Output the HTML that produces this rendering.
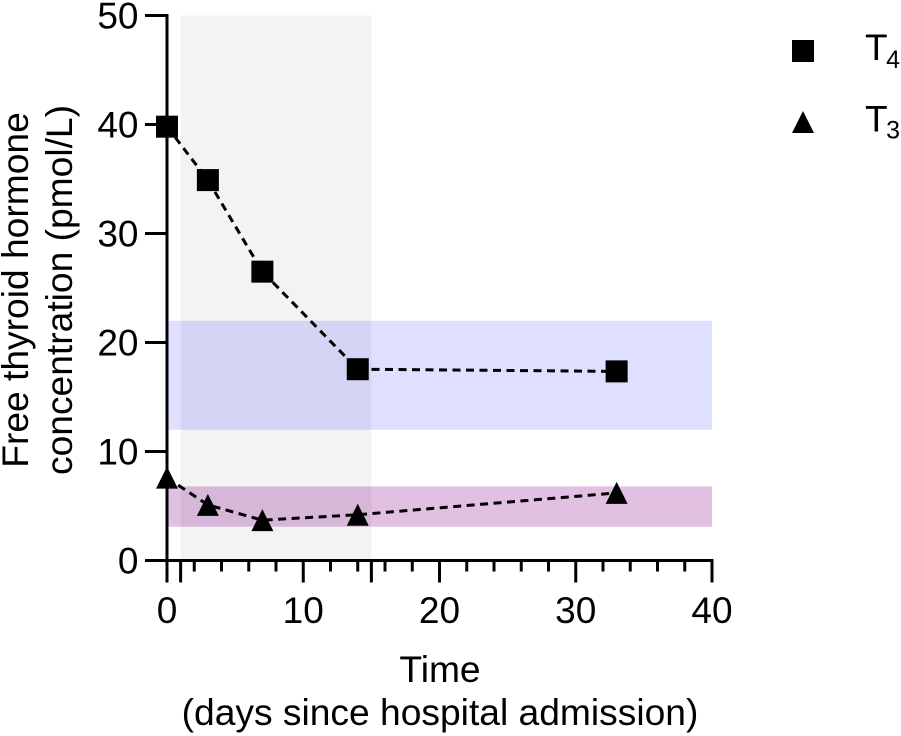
<!DOCTYPE html>
<html lang="en">
<head>
<meta charset="utf-8">
<title>Free thyroid hormone concentration over time</title>
<style>
  html, body { margin: 0; padding: 0; background: #ffffff; }
  body { width: 901px; height: 736px; overflow: hidden; }
  svg { display: block; font-family: "Liberation Sans", Arial, sans-serif; fill: #000; }
  text { fill: #000; }
</style>
</head>
<body>
<svg id="chart" xmlns="http://www.w3.org/2000/svg" width="901" height="736" viewBox="0 0 901 736">
  <g id="bands"></g>
  <g id="axes"></g>
  <g id="series"></g>
  <text transform="translate(28,290) rotate(-90)" text-anchor="middle" font-size="37.2">Free thyroid hormone</text>
  <text transform="translate(72,290) rotate(-90)" text-anchor="middle" font-size="37.2">concentration (pmol/L)</text>
  <text x="440" y="682" text-anchor="middle" font-size="37.2">Time</text>
  <text x="440" y="725" text-anchor="middle" font-size="37.2">(days since hospital admission)</text>
  <g id="legend">
    <g>
      <rect x="792" y="40" width="22" height="22" fill="#000"></rect>
      <text x="865" y="60" font-size="37">T<tspan font-size="25" dx="-1.5" dy="8">4</tspan></text>
    </g>
    <g>
      <polygon points="803,111 814,133 792,133" fill="#000"></polygon>
      <text x="865" y="131.5" font-size="37">T<tspan font-size="25" dx="-1.5" dy="7">3</tspan></text>
    </g>
  </g>
</svg>
<script>
// Chart data
const days = [0, 3, 7, 14, 33];
const t4Values = [39.8, 34.9, 26.5, 17.55, 17.35];
const t3Values = [7.6, 5.1, 3.7, 4.2, 6.2];
const xTickLabels = [0, 10, 20, 30, 40];
const xMinorTicks = [2, 4, 6, 8, 12, 14, 16, 18, 22, 24, 26, 28, 32, 34, 36, 38];
const xExtraMajorTicks = [1, 15];
const yTickLabels = [0, 10, 20, 30, 40, 50];
const hospitalStay = [1, 15];
const t4Range = [12, 22];
const t3Range = [3.1, 6.8];

// Axis functions
const xScale = v => 167 + v * 13.625;
const yScale = v => 560.5 - v * 10.9;

const NS = 'http://www.w3.org/2000/svg';
function make(tag, attrs, parent) {
  const el = document.createElementNS(NS, tag);
  for (const k in attrs) el.setAttribute(k, attrs[k]);
  parent.appendChild(el);
  return el;
}

// Bands
const bands = document.getElementById('bands');
const grayBand = make('rect', { x: xScale(hospitalStay[0]), y: yScale(50), width: xScale(hospitalStay[1]) - xScale(hospitalStay[0]), height: yScale(0) - yScale(50), fill: '#f3f3f3' }, bands);


const t4Band = make('rect', { x: xScale(0), y: yScale(t4Range[1]), width: xScale(40) - xScale(0), height: yScale(t4Range[0]) - yScale(t4Range[1]), fill: 'rgba(0,0,255,0.125)' }, bands);


const t3Band = make('rect', { x: xScale(0), y: yScale(t3Range[1]), width: xScale(40) - xScale(0), height: yScale(t3Range[0]) - yScale(t3Range[1]), fill: '#e2c0e2', style: 'mix-blend-mode:multiply' }, bands);



// Axes
const axes = document.getElementById('axes');
const axisStroke = { stroke: '#000', 'stroke-width': 3, fill: 'none' };
const yLine = make('line', Object.assign({ x1: xScale(0), x2: xScale(0), y1: yScale(50) - 1.5, y2: yScale(0) + 1.5 }, axisStroke), axes);


const xLine = make('line', Object.assign({ x1: xScale(0) - 1.5, x2: xScale(40) + 1.5, y1: yScale(0), y2: yScale(0) }, axisStroke), axes);



yTickLabels.forEach(v => {
  const tick = make('line', Object.assign({ x1: xScale(0) - 22, x2: xScale(0), y1: yScale(v), y2: yScale(v) }, axisStroke), axes);
  
  
  const label = make('text', { x: 138.5, y: yScale(v) + 13, 'text-anchor': 'end', 'font-size': 37 }, axes);
  
  
  label.textContent = v;
});
xTickLabels.forEach(v => {
  const tick = make('line', Object.assign({ x1: xScale(v), x2: xScale(v), y1: yScale(0), y2: yScale(0) + 22 }, axisStroke), axes);
  
  
  const label = make('text', { x: xScale(v), y: 623, 'text-anchor': 'middle', 'font-size': 37 }, axes);
  
  
  label.textContent = v;
});
xExtraMajorTicks.forEach(v => {
  const tick = make('line', Object.assign({ x1: xScale(v), x2: xScale(v), y1: yScale(0), y2: yScale(0) + 22 }, axisStroke), axes);
  
  
});
xMinorTicks.forEach(v => {
  const tick = make('line', Object.assign({ x1: xScale(v), x2: xScale(v), y1: yScale(0), y2: yScale(0) + 11 }, axisStroke), axes);
  
  
});

// Series
const series = document.getElementById('series');
function linePoints(values) {
  return values.map((v, i) => xScale(days[i]) + ',' + yScale(v)).join(' ');
}
const dash = { fill: 'none', stroke: '#000', 'stroke-width': 3, 'stroke-dasharray': '8 5.5' };
const t4Line = make('polyline', Object.assign({ points: linePoints(t4Values) }, dash), series);


const t3Line = make('polyline', Object.assign({ points: linePoints(t3Values) }, dash), series);



t4Values.forEach((v, i) => {
  const m = make('rect', { x: xScale(days[i]) - 11, y: yScale(v) - 11, width: 22, height: 22, fill: '#000' }, series);
  
  
});
t3Values.forEach((v, i) => {
  const cx = xScale(days[i]), cy = yScale(v);
  const m = make('polygon', { points: `${cx},${cy - 11} ${cx + 11},${cy + 11} ${cx - 11},${cy + 11}`, fill: '#000' }, series);
  
  
});
</script>
</body>
</html>
